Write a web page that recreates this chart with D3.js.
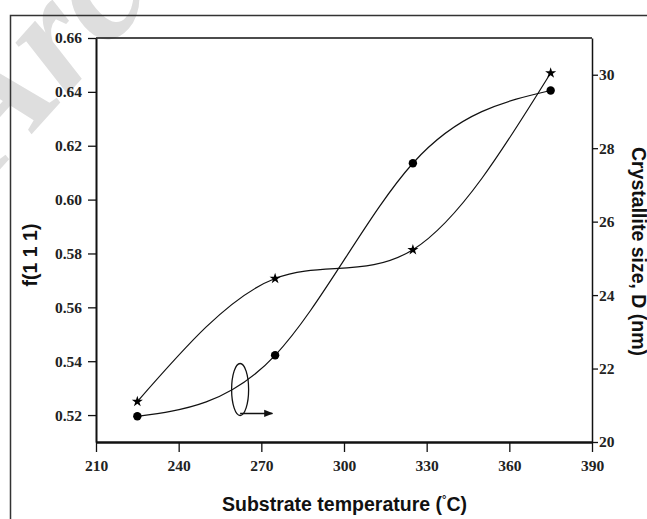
<!DOCTYPE html>
<html><head><meta charset="utf-8">
<script src="https://cdn.jsdelivr.net/npm/d3@7"></script>
<style>body{margin:0;background:#fff}svg{display:block}</style>
</head><body>
<svg id="c" width="647" height="519"></svg>
<script>
// Data
const temperatures = [225, 275, 325, 375];
const f111 = [0.525, 0.5707, 0.5814, 0.647];          // stars, left axis
const crystalliteSize = [20.7, 22.36, 27.59, 29.57];  // circles, right axis
const xTicks = [210, 240, 270, 300, 330, 360, 390];
const yLeftTicks = [0.52, 0.54, 0.56, 0.58, 0.60, 0.62, 0.64, 0.66];
const yRightTicks = [20, 22, 24, 26, 28, 30];

const svg = d3.select("#c");
const L = 96, R = 592, T = 38, B = 442;

const x = d3.scaleLinear().domain([210, 390]).range([L, R]);
const yL = d3.scaleLinear().domain([0.51, 0.66]).range([B, T]);
const yR = d3.scaleLinear().domain([20, 31]).range([B, T]);

// watermark
svg.append("text")
  .attr("transform", "translate(-6,176) rotate(-48)")
  .attr("font-family", "Liberation Serif, serif")
  .attr("font-style", "italic").attr("font-weight", "bold")
  .attr("font-size", 160).attr("fill", "#dedede")
  .text("Arc");

// outer frame
svg.append("path").attr("d", "M10.5,519 L10.5,15.5 L647,15.5")
  .attr("fill", "none").attr("stroke", "#333").attr("stroke-width", 1.5);

const tickFont = "Liberation Serif, 'Times New Roman', serif";
const tickSize = 15.5;

// bottom axis
const gx = svg.append("g").attr("transform", `translate(0,${B})`)
  .call(d3.axisBottom(x).tickValues(xTicks).tickSize(10).tickSizeOuter(0).tickPadding(8).tickFormat(d3.format("d")));
gx.select(".domain").attr("stroke-width", 2.5).attr("stroke", "#111");
gx.selectAll(".tick line").attr("stroke-width", 1.3).attr("stroke", "#111");
gx.selectAll("text").attr("font-family", tickFont).attr("font-weight", "bold").attr("font-size", tickSize).attr("fill", "#222");

// left axis
const gl = svg.append("g").attr("transform", `translate(${L},0)`)
  .call(d3.axisLeft(yL).tickValues(yLeftTicks).tickSize(8).tickSizeOuter(0).tickPadding(6).tickFormat(d3.format(".2f")));
gl.select(".domain").attr("stroke-width", 2).attr("stroke", "#111");
gl.selectAll(".tick line").attr("stroke-width", 1.3).attr("stroke", "#111");
gl.selectAll("text").attr("font-family", tickFont).attr("font-weight", "bold").attr("font-size", tickSize).attr("fill", "#222");

// right axis
const gr = svg.append("g").attr("transform", `translate(${R},0)`)
  .call(d3.axisRight(yR).tickValues(yRightTicks).tickSize(6).tickSizeOuter(0).tickPadding(1).tickFormat(d3.format("d")));
gr.select(".domain").attr("stroke-width", 1.5).attr("stroke", "#111");
gr.selectAll(".tick line").attr("stroke-width", 1.3).attr("stroke", "#111");
gr.selectAll("text").attr("font-family", tickFont).attr("font-weight", "bold").attr("font-size", tickSize).attr("fill", "#222");

// top frame line
svg.append("line").attr("x1", L).attr("x2", R).attr("y1", T).attr("y2", T)
  .attr("stroke", "#111").attr("stroke-width", 1.5);

// curves
const starPts = temperatures.map((t, i) => [x(t), yL(f111[i])]);
const circPts = temperatures.map((t, i) => [x(t), yR(crystalliteSize[i])]);
const line = d3.line().curve(d3.curveNatural);
svg.append("path").attr("d", line(starPts)).attr("fill", "none").attr("stroke", "#111").attr("stroke-width", 1.2);
svg.append("path").attr("d", line(circPts)).attr("fill", "none").attr("stroke", "#111").attr("stroke-width", 1.2);

// markers
svg.selectAll("circle.pt").data(circPts).join("circle")
  .attr("cx", d => d[0]).attr("cy", d => d[1]).attr("r", 4.2).attr("fill", "#000");
const star = d3.symbol().type(d3.symbolStar).size(38);
svg.selectAll("path.st").data(starPts).join("path")
  .attr("transform", d => `translate(${d[0]},${d[1]})`).attr("d", star).attr("fill", "#000");

// ellipse + arrow annotation (pointing to right axis)
const ex = x(262.3), ey = yR(21.43);
svg.append("ellipse").attr("cx", ex).attr("cy", ey).attr("rx", 8.5).attr("ry", 26)
  .attr("fill", "none").attr("stroke", "#111").attr("stroke-width", 1.3);
svg.append("defs").append("marker").attr("id", "ah").attr("viewBox", "0 0 10 10")
  .attr("refX", 9).attr("refY", 5).attr("markerWidth", 7).attr("markerHeight", 7).attr("orient", "auto")
  .append("path").attr("d", "M0,1 L10,5 L0,9 Z").attr("fill", "#111");
svg.append("line").attr("x1", ex).attr("y1", ey + 24).attr("x2", x(274)).attr("y2", ey + 24)
  .attr("stroke", "#111").attr("stroke-width", 1.3).attr("marker-end", "url(#ah)");

// axis titles
const titleFont = "Liberation Sans, Arial, sans-serif";
const titleSize = 19.5;
svg.append("text").attr("transform", "translate(37,255) rotate(-90)")
  .attr("text-anchor", "middle").attr("font-family", titleFont).attr("font-weight", "bold")
  .attr("font-size", titleSize).attr("fill", "#111").text("f(1 1 1)");
svg.append("text").attr("transform", "translate(632,251.5) rotate(90)")
  .attr("text-anchor", "middle").attr("font-family", titleFont).attr("font-weight", "bold")
  .attr("font-size", titleSize).attr("fill", "#111").text("Crystallite size, D (nm)");
const xt = svg.append("text").attr("x", 344.5).attr("y", 511)
  .attr("text-anchor", "middle").attr("font-family", titleFont).attr("font-weight", "bold")
  .attr("font-size", titleSize).attr("fill", "#111");
xt.append("tspan").text("Substrate temperature (");
xt.append("tspan").attr("font-size", 11).attr("dy", -8).text("°");
xt.append("tspan").attr("dy", 8).text("C)");
</script>
</body></html>
